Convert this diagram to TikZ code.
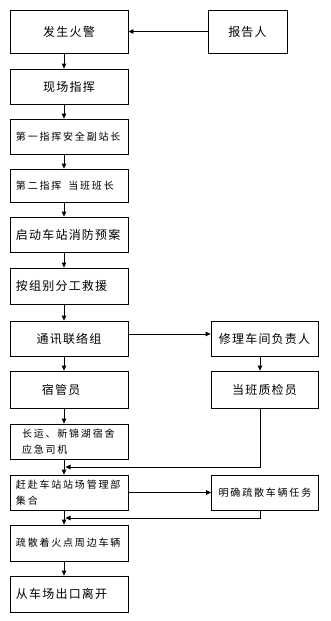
\documentclass[tikz,border=0pt]{standalone}
\usepackage{fontspec}
\newfontfamily\cjkbig[LetterSpace=10]{Noto Sans CJK SC}
\newfontfamily\cjksmall[LetterSpace=18]{Noto Sans CJK SC}
\usetikzlibrary{arrows.meta}
\begin{document}
\begin{tikzpicture}[x=1pt,y=-1pt,
  box/.style={draw, line width=0.8pt, inner sep=0pt, minimum width=118pt, minimum height=35pt,
    font=\cjkbig\fontsize{12}{14}\selectfont},
  rbox/.style={box, minimum width=107pt},
  lbox/.style={box, text width=106pt, align=left},
  sbox/.style={lbox, font=\cjksmall\fontsize{10}{15.5}\selectfont},
  arr/.style={-{Triangle[length=5pt,width=4.5pt]}, line width=0.8pt},
  ln/.style={line width=0.8pt}]
\useasboundingbox (0,0) rectangle (331,621);
\coordinate (L) at (64,0);
\coordinate (R) at (260,0);
% left column
\node[box, minimum height=43pt] (fs) at (69,31.5) {发生火警};
\node[box, minimum width=79pt, minimum height=43pt] (bg) at (247.5,31.5) {报告人};
\node[box] (xc) at (69,86.5) {现场指挥};
\node[sbox] (d1) at (69,136.5) {第一指挥安全副站长};
\node[sbox, minimum height=33pt] (d2) at (69,185.5) {第二指挥\hspace{7pt}当班班长};
\node[lbox] (qd) at (69,234.5) {启动车站消防预案};
\node[lbox, minimum height=36pt] (az) at (69,286) {按组别分工救援};
\node[box] (tx) at (69,338.5) {通讯联络组};
\node[rbox] (xl) at (264.5,338.5) {修理车间负责人};
\node[lbox, minimum height=37pt] (sg) at (69,389.5) {\hspace*{26pt}宿管员};
\node[rbox, minimum height=37pt] (zj) at (264.5,389.5) {当班质检员};
\node[sbox] (cy) at (69,441.5) {\hspace*{6pt}长运、新锦湖宿舍\\\hspace*{6pt}应急司机};
\node[sbox] (gf) at (69,492.5) {赶赴车站站场管理部\\集合};
\node[rbox, font=\cjksmall\fontsize{10}{12}\selectfont] (mq) at (265,492.5) {明确疏散车辆任务};
\node[sbox, minimum height=36pt] (ss) at (69,543) {疏散着火点周边车辆};
\node[lbox, minimum height=36pt] (cc) at (69,594) {从车场出口离开};
% connectors
\draw[arr] (bg.west) -- (bg.west -| fs.east);
\draw[arr] (fs.south -| L) -- (xc.north -| L);
\draw[arr] (xc.south -| L) -- (d1.north -| L);
\draw[arr] (d1.south -| L) -- (d2.north -| L);
\draw[arr] (d2.south -| L) -- (qd.north -| L);
\draw[arr] (qd.south -| L) -- (az.north -| L);
\draw[arr] (az.south -| L) -- (tx.north -| L);
\draw[arr] ([yshift=4.5pt]tx.east) -- ([yshift=4.5pt]tx.east -| xl.west);
\draw[arr] (tx.south -| L) -- (sg.north -| L);
\draw[arr] (xl.south -| R) -- (zj.north -| R);
\draw[arr] (sg.south -| L) -- (cy.north -| L);
\coordinate (j1) at (65.5,467);
\coordinate (j2) at (65.5,518);
\draw[arr] (zj.south -| R) |- (j1);
\draw[arr] (cy.south -| L) -- (gf.north -| L);
\draw[arr] (gf.east) -- (gf.east -| mq.west);
\draw[arr] (mq.south -| R) |- (j2);
\draw[arr] (gf.south -| L) -- (ss.north -| L);
\draw[arr] (ss.south -| L) -- (cc.north -| L);
\end{tikzpicture}
\end{document}
